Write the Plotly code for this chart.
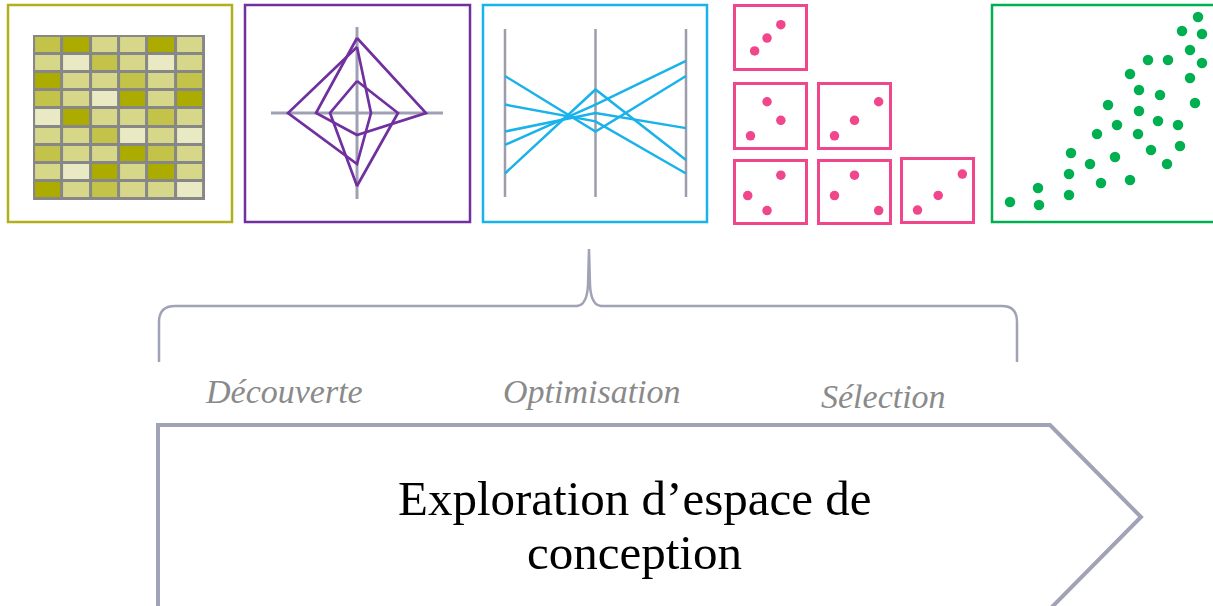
import plotly.graph_objects as go

W, H = 1213, 606

# ---- data ----
# heatmap levels (0 = very light ... 3 = dark), rows top to bottom
heat_levels = [
    [2, 3, 1, 1, 3, 1],
    [1, 0, 2, 1, 0, 1],
    [3, 1, 1, 2, 1, 2],
    [2, 1, 0, 3, 1, 3],
    [0, 3, 1, 1, 2, 1],
    [1, 1, 2, 0, 1, 0],
    [2, 1, 1, 3, 2, 1],
    [1, 0, 3, 1, 3, 1],
    [3, 1, 2, 1, 1, 0],
]
heat_colors = ["#e9e9c4", "#d7d78a", "#c3c34a", "#abab00"]

# radar polygons: values on axes top, right, bottom, left
radar_theta = [90, 0, 270, 180]
radar_big = [75, 69, 22, 41]
radar_mid = [66, 14, 51, 69]
radar_small = [32, 41, 73, 27]

# parallel coordinates: value on each of the 3 axes
par_axes = [0, 1, 2]
par_lines = [
    [7.2, 3.9, 7.2],
    [5.5, 4.5, 1.4],
    [3.1, 5.5, 8.1],
    [3.9, 5.0, 4.1],
    [1.4, 6.4, 2.2],
]

# scatter matrix panels (normalised x / y)
sm_x = [
    [0.27, 0.45, 0.65],
    [0.45, 0.65, 0.21],
    [0.85, 0.50, 0.21],
    [0.65, 0.17, 0.45],
    [0.50, 0.21, 0.85],
    [0.86, 0.51, 0.21],
]
sm_y = [
    [0.28, 0.49, 0.71],
    [0.73, 0.43, 0.18],
    [0.73, 0.43, 0.18],
    [0.78, 0.44, 0.19],
    [0.78, 0.44, 0.19],
    [0.77, 0.42, 0.18],
]

# big scatter
sc_x = [1.8, 4.6, 4.7, 7.7, 7.7, 7.9, 9.8, 10.9, 10.5, 11.6, 12.3, 12.5, 13.8, 13.8,
        14.6, 14.7, 14.7, 15.6, 15.9, 16.6, 16.8, 17.5, 17.6, 18.6, 18.8, 19.0, 19.8,
        19.8, 20.3, 20.6, 21.0, 21.0]
sc_y = [2.0, 3.4, 1.7, 2.7, 4.8, 6.9, 5.8, 3.9, 8.8, 11.7, 6.5, 9.7, 4.2, 14.8,
        8.8, 11.1, 13.2, 16.2, 7.2, 10.1, 12.7, 5.8, 16.2, 9.7, 7.6, 19.1, 17.2,
        14.4, 11.9, 20.5, 18.8, 15.9]

phases = ["Découverte", "Optimisation", "Sélection"]
main_text = ["Exploration d’espace de", "conception"]

OLIVE = "#b0b01c"
PURPLE = "#7030a0"
CYAN = "#1ab2ea"
PINK = "#f0468c"
GREEN = "#00b050"
GREY = "#a0a2b5"


def px(v):
    return v / W


def py(v):
    return 1 - v / H


fig = go.Figure()

# heatmap
fig.add_trace(go.Heatmap(
    z=heat_levels, zmin=0, zmax=3, xgap=3, ygap=3, showscale=False,
    colorscale=[[0, heat_colors[0]], [1 / 3, heat_colors[1]],
                [2 / 3, heat_colors[2]], [1, heat_colors[3]]],
    xaxis="x", yaxis="y", hoverinfo="skip"))

# radar
for vals in [radar_big, radar_mid, radar_small]:
    fig.add_trace(go.Scatterpolar(
        r=vals + vals[:1], theta=radar_theta + radar_theta[:1],
        mode="lines", line=dict(color=PURPLE, width=2.7), hoverinfo="skip"))

# parallel coordinates
for a in par_axes:
    fig.add_trace(go.Scatter(x=[a, a], y=[0, 10], mode="lines",
                             line=dict(color="#9c9cac", width=2.5),
                             xaxis="x2", yaxis="y2", hoverinfo="skip"))
for ln in par_lines:
    fig.add_trace(go.Scatter(x=par_axes, y=ln, mode="lines",
                             line=dict(color=CYAN, width=2.5),
                             xaxis="x2", yaxis="y2", hoverinfo="skip"))

# scatter matrix
for i in range(6):
    n = i + 3
    fig.add_trace(go.Scatter(x=sm_x[i], y=sm_y[i], mode="markers",
                             marker=dict(color=PINK, size=9.5),
                             xaxis=f"x{n}", yaxis=f"y{n}", hoverinfo="skip"))

# big scatter
fig.add_trace(go.Scatter(x=sc_x, y=sc_y, mode="markers",
                         marker=dict(color=GREEN, size=10.5),
                         xaxis="x9", yaxis="y9", hoverinfo="skip"))

hidden = dict(visible=False, showgrid=False, zeroline=False)

layout = dict(
    width=W, height=H, margin=dict(l=0, r=0, t=0, b=0),
    paper_bgcolor="white", plot_bgcolor="rgba(0,0,0,0)", showlegend=False,
    xaxis=dict(hidden, domain=[px(8), px(232)], range=[-1.418, 6.488], anchor="y"),
    yaxis=dict(hidden, domain=[py(222), py(5)], range=[9.77, -2.21], anchor="x"),
    xaxis2=dict(hidden, domain=[px(483), px(707)], range=[-0.243, 2.232], anchor="y2"),
    yaxis2=dict(hidden, domain=[py(222), py(5)], range=[-1.49, 11.43], anchor="x2"),
    xaxis9=dict(hidden, domain=[px(992), 1], range=[0, 22.1], anchor="y9"),
    yaxis9=dict(hidden, domain=[py(222), py(5)], range=[0, 21.7], anchor="x9"),
    xaxis10=dict(hidden, domain=[0, 1], range=[0, W], anchor="y10"),
    yaxis10=dict(hidden, domain=[0, 1], range=[H, 0], anchor="x10"),
    polar=dict(
        domain=dict(x=[px(271), px(443)], y=[py(199), py(27)]),
        bgcolor="rgba(0,0,0,0)", hole=0,
        radialaxis=dict(range=[0, 86], visible=False),
        angularaxis=dict(tickvals=[0, 90, 180, 270], showticklabels=False,
                         ticks="", showline=False, gridcolor="#a0a0b4",
                         gridwidth=2.5),
    ),
)

sm_boxes = [
    (735, 806, 6, 69), (735, 806, 84, 148), (819, 890, 84, 148),
    (735, 806, 161, 223), (819, 890, 161, 223), (902, 973, 159, 222),
]
for i, (x0, x1, y0, y1) in enumerate(sm_boxes):
    n = i + 3
    ax = dict(showgrid=False, zeroline=False, showticklabels=False, ticks="",
              showline=True, mirror=True, linecolor=PINK, linewidth=2.5,
              range=[0, 1], fixedrange=True)
    layout[f"xaxis{n}"] = dict(ax, domain=[px(x0 + 1), px(x1 - 1)], anchor=f"y{n}")
    layout[f"yaxis{n}"] = dict(ax, domain=[py(y1 - 1), py(y0 + 1)], anchor=f"x{n}")

fig.update_layout(**layout)

# panel frames
frames = [(8, 232, OLIVE), (245, 470, PURPLE), (483, 707, CYAN), (992, 1240, GREEN)]
for x0, x1, col in frames:
    fig.add_shape(type="rect", xref="x10", yref="y10", x0=x0, x1=x1, y0=5, y1=222,
                  line=dict(color=col, width=2.5))

# grey background of heatmap grid
fig.add_shape(type="rect", xref="x", yref="y", x0=-0.5, x1=5.5, y0=-0.5, y1=8.5,
              fillcolor="#878787", line=dict(color="#878787", width=2), layer="below")

# brace
fig.add_shape(type="path", xref="x10", yref="y10",
              path="M159,362 L159,322 Q159,306 175,306 L577,306 Q587,305 588,285 L589,249 "
                   "L590,285 Q591,305 601,306 L1002,306 Q1017,306 1017,322 L1017,362",
              line=dict(color=GREY, width=2.5))

# arrow
fig.add_shape(type="path", xref="x10", yref="y10",
              path="M158,425 L1050,425 L1141,517 L1050,609 L158,609 Z",
              line=dict(color=GREY, width=4))

for label, xc, yc in zip(phases, [284, 592, 883], [391, 391, 396]):
    fig.add_annotation(x=xc, y=yc, xref="x10", yref="y10", text=f"<i>{label}</i>",
                       showarrow=False,
                       font=dict(family="Liberation Serif", size=34, color="#8a8a8a"))

for line, yc in zip(main_text, [498, 552]):
    fig.add_annotation(x=634, y=yc, xref="x10", yref="y10", text=line, showarrow=False,
                       font=dict(family="Liberation Serif", size=49, color="black"))

fig.write_html("out.html", config={"displayModeBar": False},
               post_script="document.body.style.margin='0';")
